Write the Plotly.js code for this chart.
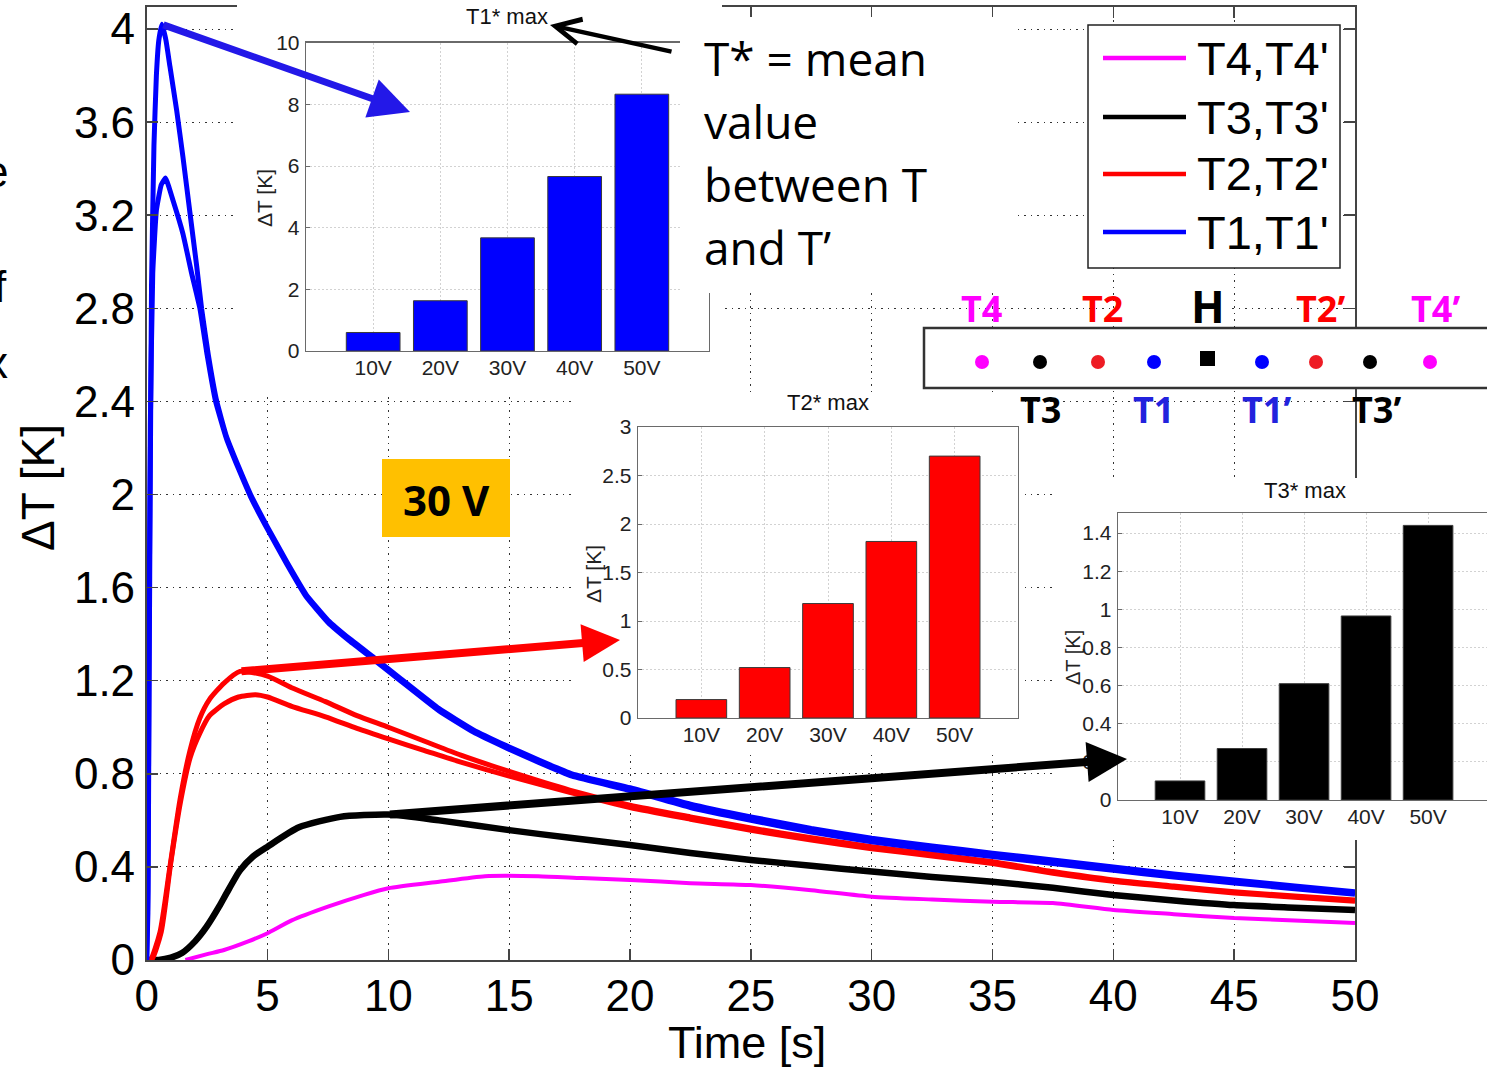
<!DOCTYPE html>
<html><head><meta charset="utf-8">
<script src="https://cdn.plot.ly/plotly-3.0.1.min.js"></script>
<style>html,body{margin:0;padding:0;background:#fff;} #chart{width:1487px;height:1071px;}</style>
</head><body><div id="chart"></div>
<script>
// ---------- DATA ----------
const timeT1 = [0, 0.05, 0.1, 0.15, 0.2, 0.3, 0.4, 0.5, 0.63, 0.8, 0.96, 1.24, 1.5, 1.79, 2.07, 2.27, 2.55, 2.9, 3.3, 3.8, 4.3, 5.0, 5.8, 6.6, 7.5, 8.4, 9.4, 10.5, 12.1, 13.5, 14.9, 16.2, 17.6, 20, 22.5, 25, 27.5, 30, 32.5, 35, 37.5, 40, 42.5, 45, 47.5, 50];
const dT_T1   = [0, 0.2, 1.2, 2.1, 2.9, 3.5, 3.8, 3.95, 4.02, 3.95, 3.84, 3.65, 3.45, 3.21, 2.98, 2.8, 2.6, 2.4, 2.25, 2.12, 2.0, 1.86, 1.71, 1.57, 1.46, 1.38, 1.30, 1.21, 1.08, 0.99, 0.92, 0.86, 0.80, 0.74, 0.67, 0.615, 0.565, 0.523, 0.49, 0.459, 0.43, 0.40, 0.37, 0.344, 0.318, 0.293];
const timeT1p = [0, 0.05, 0.1, 0.15, 0.25, 0.4, 0.6, 0.78, 1.1, 1.5, 1.86, 2.2, 2.5, 2.85, 3.3, 3.8, 4.3, 5.0, 5.8, 6.6, 7.5, 8.4, 9.4, 10.5, 12.1, 13.5, 14.9, 16.2, 17.6, 20, 22.5, 25, 27.5, 30, 32.5, 35, 37.5, 40, 42.5, 45, 47.5, 50];
const dT_T1p   = [0, 0.3, 1.4, 2.3, 2.95, 3.22, 3.33, 3.36, 3.26, 3.12, 2.95, 2.8, 2.6, 2.4, 2.24, 2.11, 1.99, 1.85, 1.70, 1.56, 1.45, 1.37, 1.29, 1.20, 1.07, 0.98, 0.91, 0.85, 0.79, 0.728, 0.655, 0.6, 0.55, 0.508, 0.475, 0.445, 0.415, 0.385, 0.356, 0.331, 0.306, 0.282];
const timeT2 = [0, 0.15, 0.55, 0.96, 1.38, 1.79, 2.2, 2.6, 3.2, 3.86, 5, 6, 7.4, 8.7, 10, 11.5, 13, 15, 17.5, 20, 22.5, 25, 27.5, 30, 32.5, 35, 37.5, 40, 42.5, 45, 47.5, 50];
const dT_T2   = [0, 0, 0.12, 0.40, 0.69, 0.90, 1.04, 1.12, 1.19, 1.24, 1.22, 1.17, 1.11, 1.05, 1.0, 0.94, 0.88, 0.81, 0.73, 0.665, 0.615, 0.567, 0.525, 0.487, 0.455, 0.422, 0.38, 0.344, 0.318, 0.293, 0.275, 0.258];
const timeT2p = [0, 0.2, 0.6, 1.0, 1.4, 1.8, 2.2, 2.6, 3.2, 3.8, 4.5, 5, 6, 7.4, 8.7, 10, 11.5, 13, 15, 17.5, 20, 22.5, 25, 27.5, 30, 32.5, 35, 37.5, 40, 42.5, 45, 47.5, 50];
const dT_T2p   = [0, 0, 0.12, 0.42, 0.68, 0.87, 0.975, 1.05, 1.10, 1.13, 1.14, 1.13, 1.09, 1.045, 0.995, 0.95, 0.9, 0.85, 0.79, 0.72, 0.655, 0.605, 0.557, 0.515, 0.478, 0.447, 0.414, 0.373, 0.338, 0.312, 0.288, 0.27, 0.252];
const timeT3 = [0, 0.5, 1.0, 1.46, 2.0, 2.48, 3.0, 3.3, 3.86, 4.4, 5, 6.3, 8, 10, 12.1, 15, 17.6, 20, 22.5, 25, 27.5, 30, 32.5, 35, 37.5, 40, 42.5, 45, 47.5, 50];
const dT_T3   = [0, 0, 0.01, 0.03, 0.08, 0.143, 0.23, 0.286, 0.385, 0.445, 0.487, 0.57, 0.615, 0.625, 0.60, 0.558, 0.524, 0.494, 0.46, 0.43, 0.405, 0.38, 0.357, 0.336, 0.31, 0.279, 0.256, 0.236, 0.225, 0.215];
const timeT4 = [1.6, 2.5, 3.2, 4.2, 5, 6, 7.5, 9, 10, 12.1, 14, 16.2, 18, 20, 22.5, 25, 27.5, 30, 32.5, 35, 37.5, 40, 42.5, 45, 47.5, 50];
const dT_T4   = [0, 0.025, 0.043, 0.08, 0.115, 0.17, 0.229, 0.28, 0.308, 0.336, 0.36, 0.36, 0.352, 0.344, 0.33, 0.322, 0.3, 0.272, 0.26, 0.25, 0.245, 0.215, 0.197, 0.18, 0.17, 0.159];

const voltages  = ['10V', '20V', '30V', '40V', '50V'];
const T1starMax = [0.6, 1.63, 3.67, 5.66, 8.33];
const T2starMax = [0.19, 0.52, 1.18, 1.82, 2.70];
const T3starMax = [0.10, 0.27, 0.61, 0.965, 1.44];

const timeTicks = [0, 5, 10, 15, 20, 25, 30, 35, 40, 45, 50];
const dTTicks = [0, 0.4, 0.8, 1.2, 1.6, 2, 2.4, 2.8, 3.2, 3.6, 4];
const dTTickText = ['0', '0.4', '0.8', '1.2', '1.6', '2', '2.4', '2.8', '3.2', '3.6', '4'];
const inset1Ticks = [0, 2, 4, 6, 8, 10];
const inset2Ticks = [0, 0.5, 1, 1.5, 2, 2.5, 3];
const inset2TickText = ['0', '0.5', '1', '1.5', '2', '2.5', '3'];
const inset3Ticks = [0, 0.2, 0.4, 0.6, 0.8, 1, 1.2, 1.4];
const inset3TickText = ['0', '0.2', '0.4', '0.6', '0.8', '1', '1.2', '1.4'];

// ---------- LAYOUT HELPERS ----------
const W = 1487, H = 1071;
const FONT = 'Liberation Sans, Arial, sans-serif';
const FONT2 = 'Open Sans, Noto Sans, sans-serif';
const MX0 = 146.7, MX1 = 1355, MY0 = 7, MY1 = 960, YPX = 232.75;
const dx = p => (p - MX0) / (MX1 - MX0) * 50;
const dy = p => (MY1 - p) / YPX;
const domX = (a, b) => [a / W, Math.min(1, b / W)];
const domY = (top, bot) => [Math.max(0, 1 - bot / H), Math.min(1, 1 - top / H)];

function rect(x0, y0, x1, y1, extra) {
  return Object.assign({type: 'rect', xref: 'paper', yref: 'paper', x0: x0 / W, x1: x1 / W, y0: 1 - y1 / H, y1: 1 - y0 / H, layer: 'above'}, extra);
}
function circ(cx, cy, r, color) {
  return {type: 'circle', xref: 'paper', yref: 'paper', x0: (cx - r) / W, x1: (cx + r) / W, y0: 1 - (cy + r) / H, y1: 1 - (cy - r) / H, fillcolor: color, line: {width: 0}, layer: 'above'};
}
function seg(x0, y0, x1, y1, color, w) {
  return {type: 'line', xref: 'paper', yref: 'paper', x0: x0 / W, x1: x1 / W, y0: 1 - y0 / H, y1: 1 - y1 / H, line: {color: color, width: w}, layer: 'above'};
}
function txt(x, y, text, size, color, opts) {
  return Object.assign({xref: 'paper', yref: 'paper', x: x / W, y: 1 - y / H, text: text, showarrow: false,
    font: {family: FONT, size: size, color: color}, xanchor: 'center', yanchor: 'middle'}, opts || {});
}
function peakOf(t, v) { const i = v.indexOf(Math.max(...v)); return [t[i], v[i]]; }
function arrow(tail, headPx, color, w, size, head) {
  return {xref: 'x', yref: 'y', axref: 'x', ayref: 'y', x: dx(headPx[0]), y: dy(headPx[1]), ax: tail[0], ay: tail[1],
    text: '', showarrow: true, arrowhead: head, arrowsize: size, arrowwidth: w, arrowcolor: color, standoff: 0};
}

// ---------- TRACES ----------
const line = (x, y, color, w, sm) => ({type: 'scatter', mode: 'lines', x: x, y: y, line: {color: color, width: w, shape: 'spline', smoothing: sm},
  xaxis: 'x', yaxis: 'y', hoverinfo: 'skip', showlegend: false});
const cover = (n) => ({type: 'scatter', mode: 'markers', x: [-10], y: [-10], xaxis: 'x' + n, yaxis: 'y' + n, hoverinfo: 'skip', showlegend: false, marker: {size: 1, opacity: 0}});
const bar = (y, color, n) => ({type: 'bar', x: voltages, y: y, xaxis: 'x' + n, yaxis: 'y' + n, marker: {color: color, line: {color: '#3a3a3a', width: 1}}, hoverinfo: 'skip', showlegend: false});

const data = [
  line(timeT4, dT_T4, '#FF00FF', 4, 0.6),
  line(timeT3, dT_T3, '#000000', 6.5, 0.6),
  line(timeT2p, dT_T2p, '#FF0000', 5, 0.6),
  line(timeT2, dT_T2, '#FF0000', 5, 0.6),
  line(timeT1p, dT_T1p, '#0000FF', 5, 0.35),
  line(timeT1, dT_T1, '#0000FF', 5, 0.35),
  cover(2), bar(T1starMax, '#0000FF', 3),
  cover(4), bar(T2starMax, '#FF0000', 5),
  cover(6), bar(T3starMax, '#000000', 7)
];

// ---------- AXES ----------
const blankAxis = (dom, anchor) => ({domain: dom, range: [0, 1], anchor: anchor, showgrid: false, zeroline: false, showline: false, showticklabels: false, ticks: '', fixedrange: true});
const insetX = (dom, anchor, range) => ({domain: dom, anchor: anchor, type: 'category', categoryorder: 'array', categoryarray: voltages, range: range,
  showgrid: true, gridcolor: '#d2d2d2', griddash: '2px,2px', gridwidth: 1, showline: true, mirror: true, linecolor: '#6a6a6a', linewidth: 1.3,
  ticks: '', tickfont: {family: FONT, size: 21, color: '#222'}, zeroline: false, fixedrange: true, ticklabelstandoff: -3});
const insetY = (dom, anchor, range, vals, text) => ({domain: dom, anchor: anchor, range: range, tickvals: vals, ticktext: text,
  showgrid: true, gridcolor: '#d2d2d2', griddash: '2px,2px', gridwidth: 1, showline: true, mirror: true, linecolor: '#6a6a6a', linewidth: 1.3,
  ticks: 'inside', ticklen: 4, tickcolor: '#6a6a6a', tickfont: {family: FONT, size: 21, color: '#222'}, zeroline: false, fixedrange: true, ticklabelstandoff: 1});

const layout = {
  width: W, height: H, margin: {l: 0, r: 0, t: 0, b: 0, pad: 0},
  paper_bgcolor: 'white', plot_bgcolor: 'white', showlegend: false, hovermode: false, bargap: 0.2,
  xaxis: {domain: domX(MX0, MX1), range: [0, 50], anchor: 'y', tickvals: timeTicks, ticktext: timeTicks.map(String),
    showgrid: true, gridcolor: '#333', griddash: '1.5px,5px', gridwidth: 1, showline: true, mirror: 'ticks', linecolor: '#444', linewidth: 1.8,
    ticks: 'inside', ticklen: 11, tickwidth: 1.5, tickcolor: '#444', tickfont: {family: FONT, size: 44, color: '#000'}, zeroline: false, fixedrange: true, ticklabelstandoff: -4},
  yaxis: {domain: domY(MY0, MY1), range: [0, (MY1 - MY0) / YPX], anchor: 'x', tickvals: dTTicks, ticktext: dTTickText,
    showgrid: true, gridcolor: '#333', griddash: '1.5px,5px', gridwidth: 1, showline: true, mirror: 'ticks', linecolor: '#444', linewidth: 1.8,
    ticks: 'inside', ticklen: 11, tickwidth: 1.5, tickcolor: '#444', tickfont: {family: FONT, size: 44, color: '#000'}, zeroline: false, fixedrange: true, ticklabelstandoff: 1},
  // inset 1 (T1* max)
  xaxis2: blankAxis(domX(237, 722), 'y2'), yaxis2: blankAxis(domY(0, 392), 'x2'),
  xaxis3: insetX(domX(306, 709), 'y3', [-1, 5]),
  yaxis3: insetY(domY(42.7, 351), 'x3', [0, 10], inset1Ticks, inset1Ticks.map(String)),
  // inset 2 (T2* max)
  xaxis4: blankAxis(domX(575, 1025), 'y4'), yaxis4: blankAxis(domY(392, 755), 'x4'),
  xaxis5: insetX(domX(638, 1018), 'y5', [-1, 5]),
  yaxis5: insetY(domY(427, 718), 'x5', [0, 3], inset2Ticks, inset2TickText),
  // inset 3 (T3* max)
  xaxis6: blankAxis(domX(1052, 1487), 'y6'), yaxis6: blankAxis(domY(478, 840), 'x6'),
  xaxis7: insetX(domX(1118, 1487), 'y7', [-1, 4.95]),
  yaxis7: insetY(domY(513, 800), 'x7', [0, 1.505], inset3Ticks, inset3TickText),
  shapes: [], annotations: []
};

// text block cover, 30 V box, legend, sensor sketch
const S = layout.shapes, A = layout.annotations;
S.push(rect(680, 17, 1015, 293, {fillcolor: 'white', line: {width: 0}}));
S.push(rect(382, 459, 510, 537, {fillcolor: '#FFC000', line: {width: 0}}));
S.push(rect(1088, 25, 1340, 268, {fillcolor: 'white', line: {color: '#222', width: 1.5}}));
const legendRows = [['T4,T4\'', '#FF00FF', 58], ['T3,T3\'', '#000000', 117], ['T2,T2\'', '#FF0000', 174], ['T1,T1\'', '#0000FF', 232]];
legendRows.forEach(r => {
  S.push(seg(1103, r[2], 1186, r[2], r[1], 4.5));
  A.push(txt(1195, r[2], r[0], 47, '#000', {xanchor: 'left'}));
});
S.push(rect(1115, 290, 1232, 327, {fillcolor: 'white', line: {width: 0}}));
S.push(rect(924, 328, 1500, 388, {fillcolor: 'white', line: {color: '#333', width: 2.5}}));
[[982, '#FF00FF'], [1040, '#000000'], [1098, '#EE1C24'], [1154, '#0000FF'], [1262, '#0000FF'], [1316, '#EE1C24'], [1370, '#000000'], [1430, '#FF00FF']]
  .forEach(d => S.push(circ(d[0], 362, 7, d[1])));
S.push(rect(1200, 351, 1215, 366, {fillcolor: '#000', line: {width: 0}}));

const bold = (x, y, t, c, s) => txt(x, y, '<b>' + t + '</b>', s || 36, c, {font: {family: FONT2, size: s || 36, color: c}});
A.push(bold(981, 308, 'T4', '#FF00FF'), bold(1102, 308, 'T2', '#FF0000'), bold(1208, 306, 'H', '#000000', 44),
       bold(1320, 308, 'T2’', '#FF0000'), bold(1435, 308, 'T4’', '#FF00FF'),
       bold(1040, 410, 'T3', '#000000'), bold(1153, 410, 'T1', '#2222DD'), bold(1266, 410, 'T1’', '#2222DD'), bold(1376, 410, 'T3’', '#000000'));

// explanatory text
['T* = mean', 'value', 'between T', 'and T’'].forEach((t, i) => {
  A.push(txt(702, 58 + i * 63, t, 46, '#000', {xanchor: 'left', font: {family: FONT2, size: 46, color: '#000'}}));
});
A.push(txt(446, 499, '<b>30 V</b>', 42, '#000', {font: {family: FONT2, size: 42, color: '#000'}}));

// inset titles and axis titles
A.push(txt(507, 17, 'T1* max', 22, '#111'), txt(828, 402, 'T2* max', 22, '#111'), txt(1305, 491, 'T3* max', 22, '#111'));
A.push(txt(264, 198, 'ΔT [K]', 21, '#222', {textangle: -90}), txt(593, 574, 'ΔT [K]', 21, '#222', {textangle: -90}),
       txt(1073, 658, 'ΔT [K]', 20, '#222', {textangle: -90}));
A.push(txt(747, 1070, 'Time [s]', 45, '#000', {yanchor: 'bottom'}), txt(38, 488, 'ΔT [K]', 46, '#000', {textangle: -90}));
// glyphs of a neighbouring text, cut at the left border as in the source
A.push(txt(10, 171, 'e', 44, '#000', {xanchor: 'right'}), txt(9, 287, 'f', 44, '#000', {xanchor: 'right'}), txt(10, 362, 'x', 44, '#000', {xanchor: 'right'}));

// arrows
A.push(arrow(peakOf(timeT1, dT_T1), [410, 112], '#2318E8', 7, 1.15, 2));
A.push(arrow(peakOf(timeT2, dT_T2), [620, 640], '#FF0000', 8, 0.95, 2));
A.push(arrow(peakOf(timeT3, dT_T3), [1127, 759], '#000000', 8, 1.0, 2));
A.push(arrow([dx(673), dy(52)], [550, 25], '#000000', 4.5, 1.1, 5));

Plotly.newPlot('chart', data, layout, {staticPlot: true, displayModeBar: false});
</script></body></html>
